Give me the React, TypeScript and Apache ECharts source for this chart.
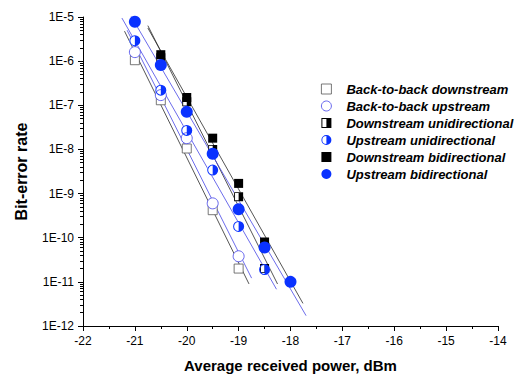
import React, { useEffect, useRef } from "react";
import * as echarts from "echarts";

// ---- data ----
const seriesNames = [
  "Back-to-back downstream",
  "Back-to-back upstream",
  "Downstream unidirectional",
  "Upstream unidirectional",
  "Downstream bidirectional",
  "Upstream bidirectional",
];

const bbdX = [-21, -20.5, -20, -19.5, -19];
const bbdY = [1.05e-6, 1.3e-7, 1.05e-8, 4.2e-10, 2e-11];
const bbuX = [-21, -20.5, -20, -19.5, -19];
const bbuY = [1.6e-6, 1.7e-7, 1.8e-8, 6e-10, 3.8e-11];
const duX = [-20.5, -20, -19.5, -19, -18.5];
const duY = [1.2e-6, 1.2e-7, 1.0e-8, 8.5e-10, 2e-11];
const uuX = [-21, -20.5, -20, -19.5, -19, -18.5];
const uuY = [2.9e-6, 2.2e-7, 2.7e-8, 3.4e-9, 1.8e-10, 1.9e-11];
const dbX = [-20.5, -20, -19.5, -19, -18.5];
const dbY = [1.4e-6, 1.5e-7, 1.8e-8, 1.7e-9, 8e-11];
const ubX = [-21, -20.5, -20, -19.5, -19, -18.5, -18];
const ubY = [7.8e-6, 8.2e-7, 7.1e-8, 8e-9, 4.4e-10, 6e-11, 1e-11];

// x extents of the fitted lines
const bbdFitX = [-21.2, -18.8];
const bbuFitX = [-21.15, -18.75];
const duFitX = [-20.75, -18.25];
const uuFitX = [-21.25, -18.27];
const dbFitX = [-20.75, -17.76];
const ubFitX = [-21.2, -17.7];

// log-axis minor tick multipliers
const minorMultipliers = [2, 3, 4, 5, 6, 7, 8, 9];
const decadeExponents = [-12, -11, -10, -9, -8, -7, -6];

const xMin = -22;
const xMax = -14;
const yMin = 1e-12;
const yMax = 1e-5;

const FONT = "'Liberation Sans', Arial, Helvetica, sans-serif";
const BLUE = "#0a32ff";
const BLUE_LINE = "#4646e6";
const BLACK_LINE = "#2a2a2a";

const HALF_SQUARE = "path://M0,0 H20 V20 H0 Z M2,2 V18 H10 V2 Z";
const HALF_CIRCLE =
  "path://M10,0 A10,10 0 1,1 10,20 A10,10 0 1,1 10,0 Z M10,1.8 A8.2,8.2 0 0,0 10,18.2 Z";

function zip(xs: number[], ys: number[]) {
  return xs.map((x, i) => [x, ys[i]]);
}

function fitLine(xs: number[], ys: number[], ext: number[]) {
  const ls = ys.map((v) => Math.log10(v));
  const n = xs.length;
  const mx = xs.reduce((s, v) => s + v, 0) / n;
  const my = ls.reduce((s, v) => s + v, 0) / n;
  let sxy = 0;
  let sxx = 0;
  for (let i = 0; i < n; i++) {
    sxy += (xs[i] - mx) * (ls[i] - my);
    sxx += (xs[i] - mx) * (xs[i] - mx);
  }
  const b = sxy / sxx;
  const a = my - b * mx;
  return ext.map((x) => [x, Math.pow(10, a + b * x)]);
}

export default function App() {
  const ref = useRef<HTMLDivElement>(null);

  useEffect(() => {
    if (!ref.current) return;
    const chart = echarts.init(ref.current, undefined, { renderer: "svg" });

    const minorVals: number[] = [];
    decadeExponents.forEach((e) =>
      minorMultipliers.forEach((m) => minorVals.push(m * Math.pow(10, e)))
    );

    const lineSeries = (name: string, data: number[][], color: string) => ({
      name,
      type: "line",
      data,
      symbol: "none",
      silent: true,
      lineStyle: { color, width: 0.8 },
      z: 1,
    });

    const under = (name: string, data: number[][], size: number, symbol: string) => ({
      name,
      type: "scatter",
      data,
      symbol,
      symbolSize: size,
      silent: true,
      itemStyle: { color: "#ffffff", opacity: 1 },
      z: 2,
    });

    const yBase: any = {
      type: "log",
      logBase: 10,
      min: yMin,
      max: yMax,
      interval: 1,
      position: "left",
      splitLine: { show: false },
      minorSplitLine: { show: false },
    };

    const option: any = {
      animation: false,
      backgroundColor: "#ffffff",
      grid: { left: 83, right: 29, top: 17, bottom: 52, containLabel: false },
      legend: {
        data: seriesNames,
        orient: "vertical",
        left: 316,
        top: 77,
        padding: 5,
        itemWidth: 10,
        itemHeight: 10,
        itemGap: 3,
        selectedMode: false,
        itemStyle: { borderWidth: 0.8 },
        textStyle: {
          fontFamily: FONT,
          fontStyle: "italic",
          fontWeight: "bold",
          fontSize: 13,
          lineHeight: 14,
          color: "#000",
          padding: [0, 0, 0, 10],
        },
      },
      xAxis: {
        type: "value",
        min: xMin,
        max: xMax,
        interval: 1,
        name: "Average received power, dBm",
        nameLocation: "middle",
        nameGap: 32,
        nameTextStyle: { fontFamily: FONT, fontWeight: "bold", fontSize: 15, color: "#000" },
        axisLine: { show: true, onZero: false, lineStyle: { color: "#000", width: 1 } },
        axisTick: { show: true, length: 5, lineStyle: { color: "#000" } },
        minorTick: { show: true, splitNumber: 2, length: 3, lineStyle: { color: "#000" } },
        splitLine: { show: false },
        axisLabel: { fontFamily: FONT, fontSize: 12, color: "#000", margin: 9 },
      },
      yAxis: [
        {
          ...yBase,
          name: "Bit-error rate",
          nameLocation: "middle",
          nameGap: 54,
          nameTextStyle: { fontFamily: FONT, fontWeight: "bold", fontSize: 16, color: "#000" },
          axisLine: { show: true, lineStyle: { color: "#000", width: 1 } },
          axisTick: { show: true, length: 5, lineStyle: { color: "#000" } },
          minorTick: { show: false },
          axisLabel: {
            fontFamily: FONT,
            fontSize: 12,
            color: "#000",
            margin: 9,
            formatter: (v: number) => "1E" + Math.round(Math.log10(v)),
          },
        },
        {
          ...yBase,
          axisLine: { show: false },
          axisLabel: { show: false },
          axisTick: {
            show: true,
            length: 3,
            customValues: minorVals,
            lineStyle: { color: "#000" },
          },
          minorTick: { show: false },
        },
      ],
      series: [
        lineSeries("fit-bbd", fitLine(bbdX, bbdY, bbdFitX), BLACK_LINE),
        lineSeries("fit-bbu", fitLine(bbuX, bbuY, bbuFitX), BLUE_LINE),
        lineSeries("fit-du", fitLine(duX, duY, duFitX), BLACK_LINE),
        lineSeries("fit-uu", fitLine(uuX, uuY, uuFitX), BLUE_LINE),
        lineSeries("fit-db", fitLine(dbX, dbY, dbFitX), BLACK_LINE),
        lineSeries("fit-ub", fitLine(ubX, ubY, ubFitX), BLUE_LINE),
        {
          name: seriesNames[0],
          type: "scatter",
          data: zip(bbdX, bbdY),
          symbol: "rect",
          symbolSize: 9,
          itemStyle: { color: "#ffffff", borderColor: "#555", borderWidth: 0.8, opacity: 1 },
          z: 3,
        },
        {
          name: seriesNames[1],
          type: "scatter",
          data: zip(bbuX, bbuY),
          symbol: "circle",
          symbolSize: 11,
          itemStyle: { color: "#ffffff", borderColor: "#4040e8", borderWidth: 0.8, opacity: 1 },
          z: 3,
        },
        under("under-du", zip(duX, duY), 9, "rect"),
        {
          name: seriesNames[2],
          type: "scatter",
          data: zip(duX, duY),
          symbol: HALF_SQUARE,
          symbolSize: 9,
          itemStyle: { color: "#000", opacity: 1 },
          z: 3,
        },
        under("under-uu", zip(uuX, uuY), 11, "circle"),
        {
          name: seriesNames[3],
          type: "scatter",
          data: zip(uuX, uuY),
          symbol: HALF_CIRCLE,
          symbolSize: 11,
          itemStyle: { color: BLUE, opacity: 1 },
          z: 3,
        },
        {
          name: seriesNames[4],
          type: "scatter",
          data: zip(dbX, dbY),
          symbol: "rect",
          symbolSize: 9,
          itemStyle: { color: "#000", opacity: 1 },
          z: 3,
        },
        {
          name: seriesNames[5],
          type: "scatter",
          data: zip(ubX, ubY),
          symbol: "circle",
          symbolSize: 12,
          itemStyle: { color: BLUE, opacity: 1 },
          z: 3,
        },
      ],
    };

    chart.setOption(option);
    return () => chart.dispose();
  }, []);

  return (
    <div
      ref={ref}
      style={{ position: "fixed", left: 0, top: 0, width: 527, height: 378, background: "#fff" }}
    />
  );
}
